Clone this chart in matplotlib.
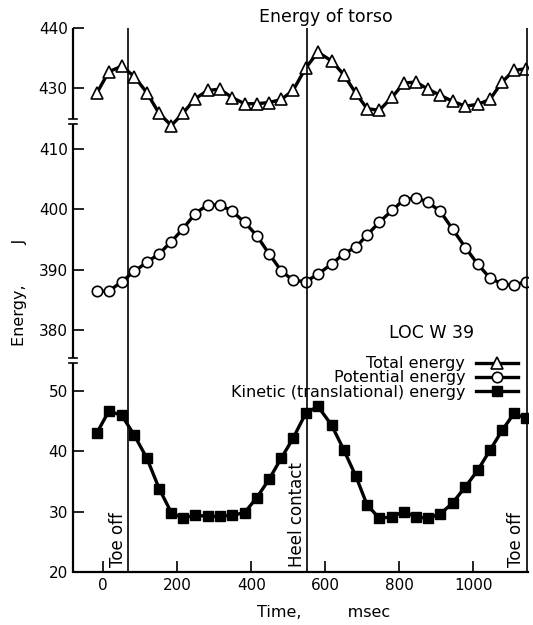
import numpy as np
import matplotlib
matplotlib.use("Agg")
import matplotlib.pyplot as plt
from matplotlib.legend_handler import HandlerLine2D
from matplotlib.lines import Line2D

plt.rcParams['font.family'] = ['DejaVu Sans']

# time of each sample (msec)
time_ms = [-18, 15, 50, 84, 118, 151, 184, 215, 248, 282, 315, 349,
           382, 415, 448, 481, 513, 547, 580, 617, 650, 683, 713, 746,
           781, 812, 845, 878, 911, 944, 979, 1012, 1045, 1078, 1110, 1143]

total_energy = [429.1, 432.7, 433.6, 431.9, 429.2, 425.8, 423.8, 425.8, 428.2,
                429.6, 429.8, 428.4, 427.4, 427.4, 427.6, 428.1, 429.6, 433.3,
                435.9, 434.5, 432.2, 429.1, 426.6, 426.3, 428.5, 430.8, 431.0,
                429.8, 428.8, 427.8, 427.0, 427.3, 428.1, 431.0, 432.9, 433.2]

potential_energy = [386.4, 386.4, 388.0, 389.7, 391.2, 392.6, 394.6, 396.7, 399.2,
                    400.7, 400.7, 399.6, 397.8, 395.6, 392.6, 389.8, 388.2, 388.0,
                    389.2, 390.9, 392.6, 393.7, 395.7, 397.8, 399.8, 401.5, 401.9,
                    401.1, 399.6, 396.7, 393.6, 390.9, 388.6, 387.6, 387.4, 388.0]

kinetic_energy = [42.9, 46.6, 45.9, 42.6, 38.8, 33.8, 29.8, 28.9, 29.4,
                  29.2, 29.2, 29.4, 29.8, 32.3, 35.3, 38.8, 42.1, 46.2,
                  47.4, 44.3, 40.2, 35.8, 31.1, 28.9, 29.1, 30.0, 29.1,
                  28.9, 29.6, 31.4, 34.1, 36.8, 40.1, 43.4, 46.2, 45.4]

event_times = [67, 552, 1144]
event_names = ["Toe off", "Heel contact", "Toe off"]

x_ticks = [0, 200, 400, 600, 800, 1000]
y_ticks = [20, 30, 40, 50, 380, 390, 400, 410, 430, 440]

# broken y axis: the ranges 55-375 and 412-422 are squeezed out
vk = [-1000, 54.99, 375, 412, 422.01, 2000]
yk = [-1000, 54.99, 55, 92, 92.01, 1670]


def fwd(v):
    return np.interp(v, vk, yk)


def inv(y):
    return np.interp(y, yk, vk)


class MarkerLeft(HandlerLine2D):
    # marker at the left end of the legend line
    def get_xdata(self, legend, xdescent, ydescent, width, height, fontsize):
        xd, _ = super().get_xdata(legend, xdescent, ydescent, width, height, fontsize)
        m = xd[0] + 0.12 * width
        return np.array([m, xd[-1]]), np.array([m])


fig = plt.figure(figsize=(5.33, 6.25), dpi=100)
ax = fig.add_axes([0.1375, 0.0848, 0.8531, 0.8712])
ax.set_yscale('function', functions=(fwd, inv))
ax.set_xlim(-81, 1148)
ax.set_ylim(20, 440)

ax.plot(time_ms, total_energy, '-', color='k', lw=2.4, marker='^', ms=8,
        mfc='white', mec='k', mew=1.2, label='Total energy')
ax.plot(time_ms, potential_energy, '-', color='k', lw=2.4, marker='o', ms=7.5,
        mfc='white', mec='k', mew=1.2, label='Potential energy')
ax.plot(time_ms, kinetic_energy, '-', color='k', lw=2.4, marker='s', ms=7.5,
        mfc='k', mec='k', label='Kinetic (translational) energy')

for t, name in zip(event_times, event_names):
    ax.axvline(t, color='k', lw=1.2)
    ax.annotate(name, xy=(t, 0), xycoords=('data', 'axes fraction'),
                xytext=(-1, 3.5), textcoords='offset points', rotation=90,
                ha='right', va='bottom', fontsize=12)

for s in ['top', 'right', 'left']:
    ax.spines[s].set_visible(False)
ax.spines['bottom'].set_linewidth(1.6)

# left axis drawn in pieces with break marks
ytr = ax.get_yaxis_transform()
for lo, hi in [(20, 54.6), (375.4, 424.1), (424.9, 440)]:
    ax.plot([0, 0], [lo, hi], color='k', lw=1.6, transform=ytr, clip_on=False,
            solid_capstyle='butt')
for b in [54.6, 375.4, 424.1, 424.9]:
    ax.plot([-0.009, 0.009], [b, b], color='k', lw=1.2, transform=ytr, clip_on=False)

ax.set_xticks(x_ticks)
ax.set_yticks(y_ticks)
ax.set_yticklabels([str(v) for v in y_ticks])
ax.minorticks_off()
ax.tick_params(axis='both', direction='in', length=8, width=1.2,
               labelsize=11, pad=4)

ax.set_title("Energy of torso", x=0.555, fontsize=12.5, pad=4)
ax.set_ylabel("Energy,        J", fontsize=11.5)
ax.yaxis.set_label_coords(-0.102, 0.514)
ax.set_xlabel("Time,         msec", fontsize=11.5)
ax.xaxis.set_label_coords(0.551, -0.061)

ax.text(0.789, 0.439, "LOC W 39", transform=ax.transAxes, ha='center',
        va='center', fontsize=12.5)
ax.legend(loc='upper right', bbox_to_anchor=(0.978, 0.3965), markerfirst=False,
          frameon=False, numpoints=1, handlelength=3.0, handletextpad=0.3,
          labelspacing=-0.04, borderpad=0, borderaxespad=0, fontsize=11.5,
          handler_map={Line2D: MarkerLeft()})

fig.savefig("out.png", dpi=100)
